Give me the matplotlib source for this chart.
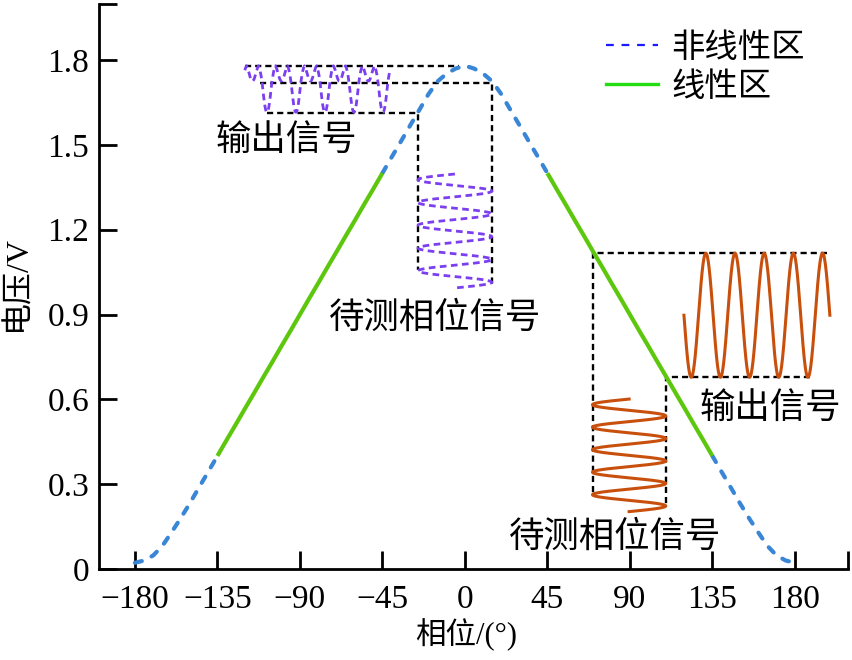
import numpy as np
import matplotlib
matplotlib.use("Agg")
import matplotlib.pyplot as plt
from matplotlib.lines import Line2D

# ---------------- data ----------------
# transfer curve (symmetric about 0)
phase_half = [0, 5, 10, 15, 20, 25, 30, 35, 40, 45, 50, 55, 60, 65, 70, 75, 80, 85, 90,
              95, 100, 105, 110, 115, 120, 125, 130, 135, 140, 145, 150, 155, 160, 165,
              170, 175, 180]
volt_half = [1.780, 1.770, 1.752, 1.724, 1.678, 1.622, 1.567, 1.511, 1.456, 1.400,
             1.344, 1.289, 1.233, 1.178, 1.122, 1.067, 1.011, 0.956, 0.900, 0.844,
             0.789, 0.733, 0.678, 0.622, 0.567, 0.511, 0.456, 0.400, 0.344, 0.289,
             0.233, 0.180, 0.130, 0.082, 0.048, 0.030, 0.022]
linear_limits = [45, 135]          # |phase| range of the linear zone

x_ticks = [-180, -135, -90, -45, 0, 45, 90, 135, 180]
x_tick_labels = ["\u2212180", "\u2212135", "\u221290", "\u221245", "0", "45", "90", "135", "180"]
y_ticks = [0, 0.3, 0.6, 0.9, 1.2, 1.5, 1.8]
y_tick_labels = ["0", "0.3", "0.6", "0.9", "1.2", "1.5", "1.8"]

legend_labels = ["非线性区", "线性区"]

# schematic signals
top_input = [-5.45, 20.15, 1.397, 0.994, 5]       # phase centre/amp, volt start/end, cycles
top_output = [-120.0, -40.9, 5, 0.76]             # phase start/end, cycles, trough offset
low_input = [89.6, 20.0, 0.601, 0.203, 5]
low_output = [119.5, 199.1, 0.8975, 0.2195, 5]   # phase start/end, volt centre/amp, cycles

# dashed guide lines (phase list, volt list)
guides = [
    ([-120, -3], [1.78, 1.78]),
    ([-112, 14.7, 14.7], [1.718, 1.718, 1.005]),
    ([-108, -25.6, -25.6], [1.614, 1.614, 1.058]),
    ([197.3, 69.7, 69.7], [1.117, 1.117, 0.269]),
    ([188.2, 109.6, 109.6], [0.678, 0.678, 0.219]),
]

# annotation texts (phase, volt, text)
notes = [
    (-97.6, 1.517, "输出信号"),
    (-16.4, 0.888, "待测相位信号"),
    (166.4, 0.570, "输出信号"),
    (81.8, 0.113, "待测相位信号"),
]

# ---------------- styling ----------------
BLUE = "#3a86d6"
GREEN = "#5cc70c"
PURPLE = "#7b3ff0"
ORANGE = "#c8500c"
CJK = ["Liberation Serif", "Noto Sans CJK SC", "DejaVu Sans"]
CJK_SANS = ["Noto Sans CJK SC", "DejaVu Sans"]

fig = plt.figure(figsize=(8.53, 6.6), dpi=100)
ax = fig.add_axes([99 / 853, (660 - 569) / 660, (848 - 99) / 853, (569 - 3.5) / 660])

ph_half = np.array(phase_half, dtype=float)
v_half = np.array(volt_half, dtype=float)
curve_ph = np.concatenate([-ph_half[::-1], ph_half[1:]])
curve_v = np.concatenate([v_half[::-1], v_half[1:]])

lo, hi = linear_limits
absph = np.abs(curve_ph)
dash_kw = dict(color=BLUE, lw=3.0, ls=(0, (1.7, 2.6)), dash_capstyle="round", zorder=3)
for m in [curve_ph <= -hi, absph <= lo, curve_ph >= hi]:
    ax.plot(curve_ph[m], curve_v[m], **dash_kw)
for m in [(curve_ph >= -hi) & (curve_ph <= -lo), (curve_ph >= lo) & (curve_ph <= hi)]:
    ax.plot(curve_ph[m], curve_v[m], color=GREEN, lw=3.0, solid_capstyle="butt", zorder=3)

# guides
for gx, gy in guides:
    ax.plot(gx, gy, color="black", lw=1.7, ls=(0, (2.6, 1.7)), zorder=2)

# upper input (vertical purple wave)
c, a, v0, v1, n = top_input
t = np.linspace(0, 1, 600)
ax.plot(c - a * np.sin(2 * np.pi * n * t), v0 + (v1 - v0) * t, color=PURPLE, lw=2.0,
        ls=(0, (2.4, 1.6)), zorder=4)

# upper output (folded by the transfer curve)
p0, p1, n, toff = top_output
t = np.linspace(0, n, 1200)
inp = c - a * np.cos(2 * np.pi * (t - toff))
out = np.interp(inp, curve_ph, curve_v)
ax.plot(p0 + (p1 - p0) * t / n, out, color=PURPLE, lw=2.0, ls=(0, (2.4, 1.6)), zorder=4)

# lower input (vertical orange wave)
c, a, v0, v1, n = low_input
t = np.linspace(0, 1, 600)
ax.plot(c - a * np.sin(2 * np.pi * n * t), v0 + (v1 - v0) * t, color=ORANGE, lw=2.2, zorder=4)

# lower output
p0, p1, vc, va, n = low_output
t = np.linspace(0, 1, 600)
ax.plot(p0 + (p1 - p0) * t, vc - va * np.sin(2 * np.pi * n * t), color=ORANGE, lw=2.2, zorder=4)

for px, py, s in notes:
    ax.text(px, py, s, fontsize=25.5, family=CJK_SANS, ha="center", va="center")

# axes
ax.set_xlim(-199.6, 209)
ax.set_ylim(0, 2.0)
ax.set_xticks(x_ticks)
ax.set_xticklabels(x_tick_labels)
ax.set_yticks(y_ticks)
ax.set_yticklabels(y_tick_labels)
ax.set_xticks([209], minor=True)
ax.set_yticks([2.0], minor=True)
for lab in ax.get_xticklabels() + ax.get_yticklabels():
    lab.set_family("Liberation Serif")
    lab.set_fontsize(24)
ax.tick_params(which="both", direction="in", length=13, width=2, color="black")
ax.tick_params(axis="x", pad=11)
ax.tick_params(axis="y", pad=7)
for s in ["top", "right"]:
    ax.spines[s].set_visible(False)
for s in ["left", "bottom"]:
    ax.spines[s].set_linewidth(2)

fig.text(466 / 853, 1 - 635 / 660, "相位/(°)", fontsize=22, family=CJK, ha="center", va="center")
fig.text(18 / 853, 1 - 283 / 660, "电压/V", fontsize=23, family=CJK, rotation=90,
         ha="center", va="center")

handles = [Line2D([], [], color="#1a1aff", lw=1.6, ls=(0, (3.5, 3.5))),
           Line2D([], [], color="#22dd11", lw=2.4)]
ax.legend(handles, legend_labels, loc="upper left",
          bbox_to_anchor=(606 / 853, 1 - 30 / 660), bbox_transform=fig.transFigure,
          frameon=False, handlelength=1.55, handletextpad=0.4, labelspacing=0.12,
          borderpad=0, borderaxespad=0, prop={"family": CJK_SANS, "size": 24})

fig.savefig("out.png", dpi=100)
